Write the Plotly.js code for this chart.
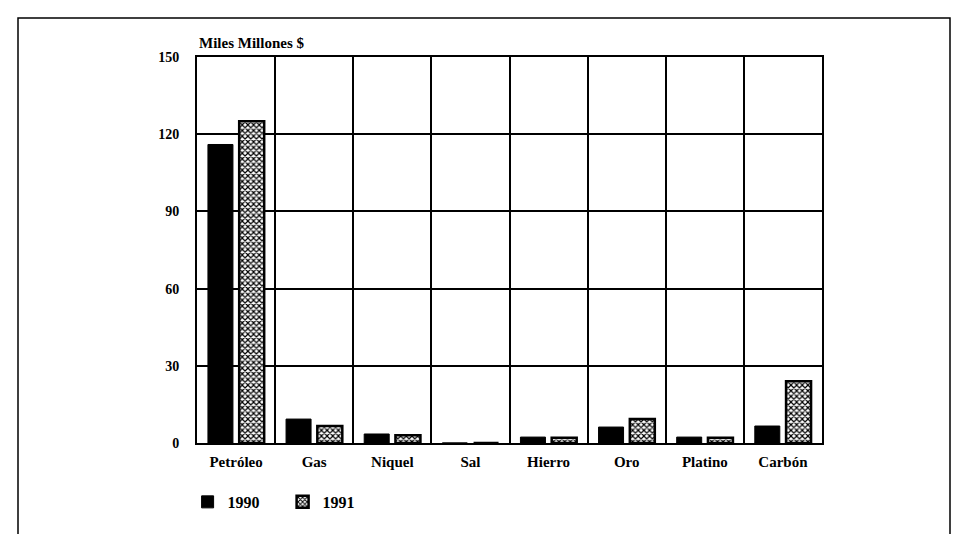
<!DOCTYPE html>
<html>
<head>
<meta charset="utf-8">
<script src="https://cdn.plot.ly/plotly-3.0.1.min.js"></script>
<style>
  html, body { margin: 0; padding: 0; background: #fff; }
  #chart { width: 967px; height: 534px; }
</style>
</head>
<body>
<div id="chart"></div>
<script>
const categories = ["Petróleo", "Gas", "Niquel", "Sal", "Hierro", "Oro", "Platino", "Carbón"];
const values1990 = [116, 9.3, 3.5, 0, 2.3, 6.2, 2.3, 6.6];
const values1991 = [125, 6.6, 3.0, 0, 2.0, 9.3, 2.0, 24];
const seriesNames = ["1990", "1991"];
const yTicks = [0, 30, 60, 90, 120, 150];
const yUnitLabel = "Miles Millones $";

const FONT = "Liberation Serif";

const traces = [
  {
    type: "bar",
    name: seriesNames[0],
    x: categories,
    y: values1990,
    marker: { color: "#000", line: { color: "#000", width: 1 } },
    hoverinfo: "x+y+name"
  },
  {
    type: "bar",
    name: seriesNames[1],
    x: categories,
    y: values1991,
    marker: {
      color: "#fff",
      line: { color: "#000", width: 2.5 },
      pattern: { shape: "x", fgcolor: "#000", bgcolor: "#fff", size: 4, solidity: 0.5 }
    },
    hoverinfo: "x+y+name"
  }
];

const layout = {
  width: 967,
  height: 534,
  margin: { l: 197, r: 145, t: 57, b: 91, autoexpand: false },
  paper_bgcolor: "#fff",
  plot_bgcolor: "#fff",
  barmode: "group",
  bargap: 0.2,
  bargroupgap: 0.2,
  font: { family: FONT, size: 13, color: "#000" },
  showlegend: true,
  legend: {
    orientation: "h",
    xref: "container",
    yref: "container",
    x: 0.194,
    xanchor: "left",
    y: 0.06,
    yanchor: "middle",
    font: { family: FONT, size: 16, color: "#000", weight: "bold" },
    itemwidth: 30,
    entrywidth: 50,
    bgcolor: "rgba(0,0,0,0)"
  },
  xaxis: {
    type: "category",
    tickson: "boundaries",
    showgrid: true,
    gridcolor: "#000",
    gridwidth: 2,
    showline: true,
    linecolor: "#000",
    linewidth: 2,
    mirror: true,
    ticks: "",
    ticklabelstandoff: 4,
    tickfont: { family: FONT, size: 15, color: "#000", weight: "bold" },
    fixedrange: true
  },
  yaxis: {
    range: [0, 150],
    tickvals: yTicks,
    ticktext: yTicks.map(String),
    showgrid: true,
    gridcolor: "#000",
    gridwidth: 2,
    zeroline: false,
    showline: true,
    linecolor: "#000",
    linewidth: 2,
    mirror: true,
    ticks: "",
    ticklabelstandoff: 13,
    tickfont: { family: FONT, size: 14, color: "#000", weight: "bold" },
    fixedrange: true
  },
  annotations: [
    {
      text: yUnitLabel,
      xref: "paper", yref: "paper",
      x: 0, y: 1.01,
      xanchor: "left", yanchor: "bottom",
      showarrow: false,
      font: { family: FONT, size: 15, color: "#000", weight: "bold" }
    }
  ],
  shapes: [
    {
      type: "rect",
      xref: "paper", yref: "paper",
      x0: -0.2864, x1: 1.2048,
      y0: -0.35, y1: 1.101,
      line: { color: "#000", width: 1.5 },
      fillcolor: "rgba(0,0,0,0)",
      layer: "below"
    }
  ]
};

Plotly.newPlot("chart", traces, layout, { displayModeBar: false, staticPlot: true });
</script>
</body>
</html>
